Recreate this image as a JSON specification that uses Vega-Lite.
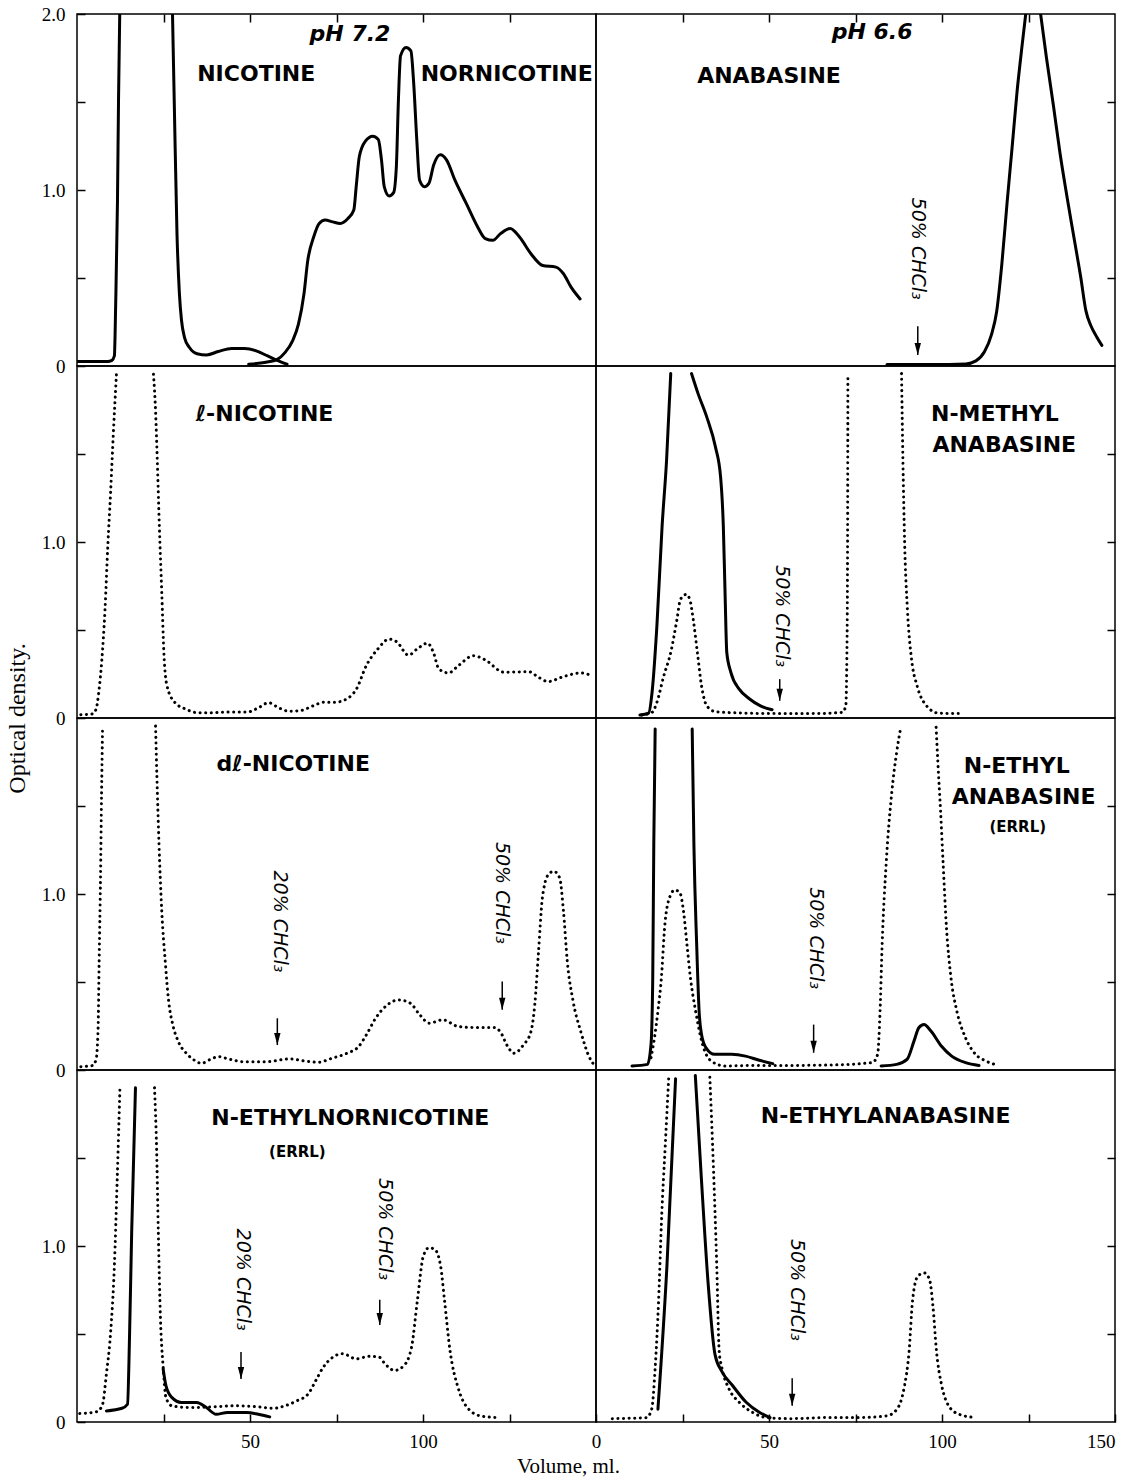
{
  "$schema": "https://vega.github.io/schema/vega-lite/v6.json",
  "padding": {"left": 4, "top": 4, "right": 0, "bottom": 0},
  "background": "white",
  "config": {
    "view": {"stroke": "black", "strokeWidth": 1.5},
    "axis": {"domain": false, "grid": false, "tickSize": -8, "tickColor": "black", "tickWidth": 1.5, "labelFont": "Liberation Serif", "labelFontSize": 19, "labelColor": "black", "labelPadding": 20, "labelOverlap": false, "labelFlush": false, "titleFont": "Liberation Serif", "titleFontSize": 24, "titleFontWeight": "normal", "titleColor": "black"}
  },
  "datasets": {
    "curves": [
      {"p":"1L","s":"a","run":"A","x":0,"y":0.025},{"p":"1L","s":"a","run":"A","x":8.8,"y":0.025},{"p":"1L","s":"a","run":"A","x":10.1,"y":0.032},{"p":"1L","s":"a","run":"A","x":10.8,"y":0.057},{"p":"1L","s":"a","run":"A","x":11.2,"y":0.37},{"p":"1L","s":"a","run":"A","x":11.7,"y":0.94},{"p":"1L","s":"a","run":"A","x":12.0,"y":1.51},{"p":"1L","s":"a","run":"A","x":12.35,"y":2.0},
      {"p":"1L","s":"b","run":"A","x":27.6,"y":2.0},{"p":"1L","s":"b","run":"A","x":28.1,"y":1.51},{"p":"1L","s":"b","run":"A","x":28.9,"y":0.75},{"p":"1L","s":"b","run":"A","x":29.6,"y":0.41},{"p":"1L","s":"b","run":"A","x":30.2,"y":0.26},{"p":"1L","s":"b","run":"A","x":31.1,"y":0.16},{"p":"1L","s":"b","run":"A","x":32.5,"y":0.105},{"p":"1L","s":"b","run":"A","x":34.7,"y":0.07},{"p":"1L","s":"b","run":"A","x":37.5,"y":0.063},{"p":"1L","s":"b","run":"A","x":40.8,"y":0.082},{"p":"1L","s":"b","run":"A","x":44.7,"y":0.1},{"p":"1L","s":"b","run":"A","x":48.5,"y":0.1},{"p":"1L","s":"b","run":"A","x":51.8,"y":0.086},{"p":"1L","s":"b","run":"A","x":55.1,"y":0.057},{"p":"1L","s":"b","run":"A","x":57.9,"y":0.032},{"p":"1L","s":"b","run":"A","x":60.7,"y":0.01},
      {"p":"1L","s":"c","run":"A","x":49.6,"y":0.01},{"p":"1L","s":"c","run":"A","x":54.6,"y":0.021},{"p":"1L","s":"c","run":"A","x":57.9,"y":0.038},{"p":"1L","s":"c","run":"A","x":60.1,"y":0.076},{"p":"1L","s":"c","run":"A","x":62.3,"y":0.143},{"p":"1L","s":"c","run":"A","x":64.0,"y":0.238},{"p":"1L","s":"c","run":"A","x":65.6,"y":0.41},{"p":"1L","s":"c","run":"A","x":66.7,"y":0.6},{"p":"1L","s":"c","run":"A","x":68.4,"y":0.733},{"p":"1L","s":"c","run":"A","x":70.0,"y":0.81},{"p":"1L","s":"c","run":"A","x":71.7,"y":0.829},{"p":"1L","s":"c","run":"A","x":73.9,"y":0.819},{"p":"1L","s":"c","run":"A","x":76.1,"y":0.81},{"p":"1L","s":"c","run":"A","x":78.3,"y":0.838},{"p":"1L","s":"c","run":"A","x":80.0,"y":0.886},{"p":"1L","s":"c","run":"A","x":80.7,"y":1.02},{"p":"1L","s":"c","run":"A","x":81.6,"y":1.19},{"p":"1L","s":"c","run":"A","x":83.3,"y":1.276},{"p":"1L","s":"c","run":"A","x":85.5,"y":1.305},{"p":"1L","s":"c","run":"A","x":87.1,"y":1.286},{"p":"1L","s":"c","run":"A","x":88.0,"y":1.171},{"p":"1L","s":"c","run":"A","x":88.8,"y":1.019},{"p":"1L","s":"c","run":"A","x":90.2,"y":0.966},{"p":"1L","s":"c","run":"A","x":91.5,"y":0.985},{"p":"1L","s":"c","run":"A","x":92.3,"y":1.133},{"p":"1L","s":"c","run":"A","x":92.9,"y":1.514},{"p":"1L","s":"c","run":"A","x":93.5,"y":1.762},{"p":"1L","s":"c","run":"A","x":95.1,"y":1.81},{"p":"1L","s":"c","run":"A","x":96.5,"y":1.79},{"p":"1L","s":"c","run":"A","x":97.3,"y":1.61},{"p":"1L","s":"c","run":"A","x":98.2,"y":1.286},{"p":"1L","s":"c","run":"A","x":99.0,"y":1.057},{"p":"1L","s":"c","run":"A","x":100.4,"y":1.019},{"p":"1L","s":"c","run":"A","x":101.7,"y":1.038},{"p":"1L","s":"c","run":"A","x":103.1,"y":1.143},{"p":"1L","s":"c","run":"A","x":105.0,"y":1.2},{"p":"1L","s":"c","run":"A","x":106.8,"y":1.171},{"p":"1L","s":"c","run":"A","x":109.2,"y":1.057},{"p":"1L","s":"c","run":"A","x":112.5,"y":0.924},{"p":"1L","s":"c","run":"A","x":115.8,"y":0.79},{"p":"1L","s":"c","run":"A","x":118.0,"y":0.724},{"p":"1L","s":"c","run":"A","x":120.2,"y":0.714},{"p":"1L","s":"c","run":"A","x":122.4,"y":0.752},{"p":"1L","s":"c","run":"A","x":125.2,"y":0.781},{"p":"1L","s":"c","run":"A","x":127.9,"y":0.733},{"p":"1L","s":"c","run":"A","x":131.2,"y":0.638},{"p":"1L","s":"c","run":"A","x":134.6,"y":0.571},{"p":"1L","s":"c","run":"A","x":138.4,"y":0.562},{"p":"1L","s":"c","run":"A","x":140.6,"y":0.524},{"p":"1L","s":"c","run":"A","x":142.8,"y":0.448},{"p":"1L","s":"c","run":"A","x":145.4,"y":0.381},

      {"p":"1R","s":"a","run":"A","x":84.1,"y":0.008},{"p":"1R","s":"a","run":"A","x":97.0,"y":0.008},{"p":"1R","s":"a","run":"A","x":106.9,"y":0.012},{"p":"1R","s":"a","run":"A","x":109.8,"y":0.029},{"p":"1R","s":"a","run":"A","x":112.3,"y":0.082},{"p":"1R","s":"a","run":"A","x":114.3,"y":0.178},{"p":"1R","s":"a","run":"A","x":115.8,"y":0.31},{"p":"1R","s":"a","run":"A","x":117.3,"y":0.58},{"p":"1R","s":"a","run":"A","x":118.8,"y":0.926},{"p":"1R","s":"a","run":"A","x":120.3,"y":1.25},{"p":"1R","s":"a","run":"A","x":121.7,"y":1.56},{"p":"1R","s":"a","run":"A","x":123.2,"y":1.83},{"p":"1R","s":"a","run":"A","x":124.2,"y":2.0},
      {"p":"1R","s":"b","run":"A","x":128.5,"y":2.0},{"p":"1R","s":"b","run":"A","x":130.2,"y":1.75},{"p":"1R","s":"b","run":"A","x":132.2,"y":1.48},{"p":"1R","s":"b","run":"A","x":134.1,"y":1.21},{"p":"1R","s":"b","run":"A","x":136.1,"y":0.965},{"p":"1R","s":"b","run":"A","x":138.1,"y":0.734},{"p":"1R","s":"b","run":"A","x":140.1,"y":0.504},{"p":"1R","s":"b","run":"A","x":141.6,"y":0.313},{"p":"1R","s":"b","run":"A","x":143.1,"y":0.226},{"p":"1R","s":"b","run":"A","x":144.6,"y":0.169},{"p":"1R","s":"b","run":"A","x":146.2,"y":0.117},

      {"p":"2L","s":"a","run":"B","x":1.1,"y":0.019},{"p":"2L","s":"a","run":"B","x":4.4,"y":0.023},{"p":"2L","s":"a","run":"B","x":5.5,"y":0.049},{"p":"2L","s":"a","run":"B","x":6.3,"y":0.147},{"p":"2L","s":"a","run":"B","x":7.2,"y":0.335},{"p":"2L","s":"a","run":"B","x":8.1,"y":0.617},{"p":"2L","s":"a","run":"B","x":8.9,"y":0.975},{"p":"2L","s":"a","run":"B","x":9.7,"y":1.276},{"p":"2L","s":"a","run":"B","x":10.5,"y":1.614},{"p":"2L","s":"a","run":"B","x":11.4,"y":1.953},
      {"p":"2L","s":"b","run":"B","x":22.1,"y":1.953},{"p":"2L","s":"b","run":"B","x":22.7,"y":1.746},{"p":"2L","s":"b","run":"B","x":23.2,"y":1.464},{"p":"2L","s":"b","run":"B","x":23.8,"y":1.087},{"p":"2L","s":"b","run":"B","x":24.5,"y":0.711},{"p":"2L","s":"b","run":"B","x":25.1,"y":0.373},{"p":"2L","s":"b","run":"B","x":26.0,"y":0.184},{"p":"2L","s":"b","run":"B","x":28.2,"y":0.09},{"p":"2L","s":"b","run":"B","x":31.6,"y":0.049},{"p":"2L","s":"b","run":"B","x":34.9,"y":0.03},{"p":"2L","s":"b","run":"B","x":39.3,"y":0.03},{"p":"2L","s":"b","run":"B","x":43.7,"y":0.034},{"p":"2L","s":"b","run":"B","x":49.3,"y":0.034},{"p":"2L","s":"b","run":"B","x":52.6,"y":0.06},{"p":"2L","s":"b","run":"B","x":55.4,"y":0.087},{"p":"2L","s":"b","run":"B","x":58.1,"y":0.06},{"p":"2L","s":"b","run":"B","x":61.4,"y":0.038},{"p":"2L","s":"b","run":"B","x":64.8,"y":0.043},{"p":"2L","s":"b","run":"B","x":68.1,"y":0.068},{"p":"2L","s":"b","run":"B","x":71.4,"y":0.09},{"p":"2L","s":"b","run":"B","x":74.7,"y":0.09},{"p":"2L","s":"b","run":"B","x":78.0,"y":0.109},{"p":"2L","s":"b","run":"B","x":80.8,"y":0.166},{"p":"2L","s":"b","run":"B","x":83.6,"y":0.297},{"p":"2L","s":"b","run":"B","x":86.9,"y":0.391},{"p":"2L","s":"b","run":"B","x":90.2,"y":0.448},{"p":"2L","s":"b","run":"B","x":92.4,"y":0.433},{"p":"2L","s":"b","run":"B","x":95.8,"y":0.357},{"p":"2L","s":"b","run":"B","x":98.5,"y":0.395},{"p":"2L","s":"b","run":"B","x":101.3,"y":0.425},{"p":"2L","s":"b","run":"B","x":103.0,"y":0.373},{"p":"2L","s":"b","run":"B","x":104.6,"y":0.278},{"p":"2L","s":"b","run":"B","x":107.4,"y":0.256},{"p":"2L","s":"b","run":"B","x":110.2,"y":0.297},{"p":"2L","s":"b","run":"B","x":114.6,"y":0.354},{"p":"2L","s":"b","run":"B","x":117.9,"y":0.331},{"p":"2L","s":"b","run":"B","x":123.4,"y":0.26},{"p":"2L","s":"b","run":"B","x":130.6,"y":0.263},{"p":"2L","s":"b","run":"B","x":133.4,"y":0.231},{"p":"2L","s":"b","run":"B","x":136.2,"y":0.207},{"p":"2L","s":"b","run":"B","x":140.0,"y":0.231},{"p":"2L","s":"b","run":"B","x":145.6,"y":0.256},{"p":"2L","s":"b","run":"B","x":148.7,"y":0.241},

      {"p":"2R","s":"a","run":"A","x":12.7,"y":0.017},{"p":"2R","s":"a","run":"A","x":15.2,"y":0.028},{"p":"2R","s":"a","run":"A","x":16.2,"y":0.145},{"p":"2R","s":"a","run":"A","x":17.6,"y":0.523},{"p":"2R","s":"a","run":"A","x":19.1,"y":1.089},{"p":"2R","s":"a","run":"A","x":20.4,"y":1.466},{"p":"2R","s":"a","run":"A","x":21.6,"y":1.957},
      {"p":"2R","s":"b","run":"A","x":27.6,"y":1.957},{"p":"2R","s":"b","run":"A","x":29.5,"y":1.843},{"p":"2R","s":"b","run":"A","x":32.0,"y":1.711},{"p":"2R","s":"b","run":"A","x":34.5,"y":1.542},{"p":"2R","s":"b","run":"A","x":36.0,"y":1.372},{"p":"2R","s":"b","run":"A","x":36.8,"y":1.089},{"p":"2R","s":"b","run":"A","x":37.3,"y":0.711},{"p":"2R","s":"b","run":"A","x":37.8,"y":0.372},{"p":"2R","s":"b","run":"A","x":39.0,"y":0.258},{"p":"2R","s":"b","run":"A","x":41.4,"y":0.164},{"p":"2R","s":"b","run":"A","x":44.4,"y":0.108},{"p":"2R","s":"b","run":"A","x":47.4,"y":0.07},{"p":"2R","s":"b","run":"A","x":50.9,"y":0.047},
      {"p":"2R","s":"c","run":"B","x":13.2,"y":0.017},{"p":"2R","s":"c","run":"B","x":16.2,"y":0.032},{"p":"2R","s":"c","run":"B","x":17.6,"y":0.089},{"p":"2R","s":"c","run":"B","x":19.6,"y":0.24},{"p":"2R","s":"c","run":"B","x":21.6,"y":0.372},{"p":"2R","s":"c","run":"B","x":23.4,"y":0.56},{"p":"2R","s":"c","run":"B","x":24.4,"y":0.674},{"p":"2R","s":"c","run":"B","x":26.1,"y":0.702},{"p":"2R","s":"c","run":"B","x":27.1,"y":0.674},{"p":"2R","s":"c","run":"B","x":28.1,"y":0.56},{"p":"2R","s":"c","run":"B","x":29.3,"y":0.372},{"p":"2R","s":"c","run":"B","x":30.5,"y":0.183},{"p":"2R","s":"c","run":"B","x":32.0,"y":0.07},{"p":"2R","s":"c","run":"B","x":34.5,"y":0.036},{"p":"2R","s":"c","run":"B","x":42.4,"y":0.028},{"p":"2R","s":"c","run":"B","x":52.3,"y":0.025},{"p":"2R","s":"c","run":"B","x":62.3,"y":0.025},{"p":"2R","s":"c","run":"B","x":71.2,"y":0.032},{"p":"2R","s":"c","run":"B","x":72.2,"y":0.07},{"p":"2R","s":"c","run":"B","x":72.5,"y":0.334},{"p":"2R","s":"c","run":"B","x":72.7,"y":0.9},{"p":"2R","s":"c","run":"B","x":72.8,"y":1.957},
      {"p":"2R","s":"d","run":"B","x":88.3,"y":1.957},{"p":"2R","s":"d","run":"B","x":88.7,"y":1.466},{"p":"2R","s":"d","run":"B","x":89.2,"y":0.994},{"p":"2R","s":"d","run":"B","x":90.0,"y":0.617},{"p":"2R","s":"d","run":"B","x":91.2,"y":0.334},{"p":"2R","s":"d","run":"B","x":92.8,"y":0.183},{"p":"2R","s":"d","run":"B","x":95.5,"y":0.07},{"p":"2R","s":"d","run":"B","x":98.9,"y":0.028},{"p":"2R","s":"d","run":"B","x":105.4,"y":0.025},

      {"p":"3L","s":"a","run":"B","x":1.1,"y":0.019},{"p":"3L","s":"a","run":"B","x":4.4,"y":0.025},{"p":"3L","s":"a","run":"B","x":5.5,"y":0.057},{"p":"3L","s":"a","run":"B","x":6.1,"y":0.237},{"p":"3L","s":"a","run":"B","x":6.4,"y":0.617},{"p":"3L","s":"a","run":"B","x":6.8,"y":1.091},{"p":"3L","s":"a","run":"B","x":7.1,"y":1.565},{"p":"3L","s":"a","run":"B","x":7.4,"y":1.954},
      {"p":"3L","s":"b","run":"B","x":22.7,"y":1.954},{"p":"3L","s":"b","run":"B","x":23.1,"y":1.66},{"p":"3L","s":"b","run":"B","x":23.7,"y":1.281},{"p":"3L","s":"b","run":"B","x":24.5,"y":0.901},{"p":"3L","s":"b","run":"B","x":25.5,"y":0.617},{"p":"3L","s":"b","run":"B","x":26.5,"y":0.389},{"p":"3L","s":"b","run":"B","x":27.7,"y":0.256},{"p":"3L","s":"b","run":"B","x":29.3,"y":0.161},{"p":"3L","s":"b","run":"B","x":31.6,"y":0.095},{"p":"3L","s":"b","run":"B","x":33.8,"y":0.057},{"p":"3L","s":"b","run":"B","x":36.0,"y":0.038},{"p":"3L","s":"b","run":"B","x":38.2,"y":0.057},{"p":"3L","s":"b","run":"B","x":41.0,"y":0.076},{"p":"3L","s":"b","run":"B","x":43.7,"y":0.063},{"p":"3L","s":"b","run":"B","x":48.2,"y":0.047},{"p":"3L","s":"b","run":"B","x":54.8,"y":0.047},{"p":"3L","s":"b","run":"B","x":61.4,"y":0.063},{"p":"3L","s":"b","run":"B","x":65.9,"y":0.051},{"p":"3L","s":"b","run":"B","x":69.7,"y":0.044},{"p":"3L","s":"b","run":"B","x":73.6,"y":0.066},{"p":"3L","s":"b","run":"B","x":78.0,"y":0.095},{"p":"3L","s":"b","run":"B","x":81.4,"y":0.133},{"p":"3L","s":"b","run":"B","x":83.6,"y":0.199},{"p":"3L","s":"b","run":"B","x":86.3,"y":0.294},{"p":"3L","s":"b","run":"B","x":89.7,"y":0.37},{"p":"3L","s":"b","run":"B","x":93.0,"y":0.398},{"p":"3L","s":"b","run":"B","x":96.3,"y":0.38},{"p":"3L","s":"b","run":"B","x":99.1,"y":0.313},{"p":"3L","s":"b","run":"B","x":101.8,"y":0.266},{"p":"3L","s":"b","run":"B","x":105.7,"y":0.285},{"p":"3L","s":"b","run":"B","x":110.2,"y":0.247},{"p":"3L","s":"b","run":"B","x":114.6,"y":0.241},{"p":"3L","s":"b","run":"B","x":120.7,"y":0.241},{"p":"3L","s":"b","run":"B","x":122.3,"y":0.218},{"p":"3L","s":"b","run":"B","x":124.5,"y":0.133},{"p":"3L","s":"b","run":"B","x":126.2,"y":0.095},{"p":"3L","s":"b","run":"B","x":129.0,"y":0.142},{"p":"3L","s":"b","run":"B","x":131.2,"y":0.218},{"p":"3L","s":"b","run":"B","x":132.3,"y":0.37},{"p":"3L","s":"b","run":"B","x":133.4,"y":0.674},{"p":"3L","s":"b","run":"B","x":134.5,"y":0.977},{"p":"3L","s":"b","run":"B","x":136.2,"y":1.11},{"p":"3L","s":"b","run":"B","x":137.8,"y":1.129},{"p":"3L","s":"b","run":"B","x":139.5,"y":1.091},{"p":"3L","s":"b","run":"B","x":140.6,"y":0.901},{"p":"3L","s":"b","run":"B","x":141.7,"y":0.617},{"p":"3L","s":"b","run":"B","x":143.4,"y":0.389},{"p":"3L","s":"b","run":"B","x":145.6,"y":0.218},{"p":"3L","s":"b","run":"B","x":147.8,"y":0.085},{"p":"3L","s":"b","run":"B","x":149.8,"y":0.019},

      {"p":"3R","s":"a","run":"A","x":10.4,"y":0.023},{"p":"3R","s":"a","run":"A","x":14.9,"y":0.032},{"p":"3R","s":"a","run":"A","x":15.9,"y":0.145},{"p":"3R","s":"a","run":"A","x":16.4,"y":0.523},{"p":"3R","s":"a","run":"A","x":16.7,"y":1.277},{"p":"3R","s":"a","run":"A","x":17.1,"y":1.938},
      {"p":"3R","s":"b","run":"A","x":27.8,"y":1.938},{"p":"3R","s":"b","run":"A","x":28.3,"y":1.277},{"p":"3R","s":"b","run":"A","x":29.1,"y":0.711},{"p":"3R","s":"b","run":"A","x":29.8,"y":0.334},{"p":"3R","s":"b","run":"A","x":30.5,"y":0.202},{"p":"3R","s":"b","run":"A","x":31.8,"y":0.126},{"p":"3R","s":"b","run":"A","x":34.3,"y":0.089},{"p":"3R","s":"b","run":"A","x":39.2,"y":0.089},{"p":"3R","s":"b","run":"A","x":43.2,"y":0.079},{"p":"3R","s":"b","run":"A","x":47.2,"y":0.055},{"p":"3R","s":"b","run":"A","x":51.1,"y":0.036},
      {"p":"3R","s":"c","run":"A","x":82.4,"y":0.023},{"p":"3R","s":"c","run":"A","x":86.9,"y":0.032},{"p":"3R","s":"c","run":"A","x":89.9,"y":0.06},{"p":"3R","s":"c","run":"A","x":91.9,"y":0.164},{"p":"3R","s":"c","run":"A","x":93.3,"y":0.24},{"p":"3R","s":"c","run":"A","x":94.8,"y":0.258},{"p":"3R","s":"c","run":"A","x":96.8,"y":0.221},{"p":"3R","s":"c","run":"A","x":99.8,"y":0.136},{"p":"3R","s":"c","run":"A","x":102.8,"y":0.079},{"p":"3R","s":"c","run":"A","x":106.8,"y":0.042},{"p":"3R","s":"c","run":"A","x":110.7,"y":0.026},
      {"p":"3R","s":"d","run":"B","x":15.9,"y":0.07},{"p":"3R","s":"d","run":"B","x":16.9,"y":0.183},{"p":"3R","s":"d","run":"B","x":17.9,"y":0.334},{"p":"3R","s":"d","run":"B","x":18.9,"y":0.523},{"p":"3R","s":"d","run":"B","x":19.9,"y":0.825},{"p":"3R","s":"d","run":"B","x":20.9,"y":0.957},{"p":"3R","s":"d","run":"B","x":22.8,"y":1.023},{"p":"3R","s":"d","run":"B","x":24.3,"y":1.004},{"p":"3R","s":"d","run":"B","x":25.3,"y":0.9},{"p":"3R","s":"d","run":"B","x":26.3,"y":0.711},{"p":"3R","s":"d","run":"B","x":27.3,"y":0.523},{"p":"3R","s":"d","run":"B","x":28.8,"y":0.334},{"p":"3R","s":"d","run":"B","x":30.8,"y":0.145},{"p":"3R","s":"d","run":"B","x":33.3,"y":0.051},{"p":"3R","s":"d","run":"B","x":37.2,"y":0.023},{"p":"3R","s":"d","run":"B","x":47.2,"y":0.026},{"p":"3R","s":"d","run":"B","x":57.1,"y":0.026},{"p":"3R","s":"d","run":"B","x":67.0,"y":0.028},{"p":"3R","s":"d","run":"B","x":79.9,"y":0.042},{"p":"3R","s":"d","run":"B","x":81.4,"y":0.089},{"p":"3R","s":"d","run":"B","x":82.1,"y":0.334},{"p":"3R","s":"d","run":"B","x":82.7,"y":0.711},{"p":"3R","s":"d","run":"B","x":83.9,"y":1.183},{"p":"3R","s":"d","run":"B","x":85.4,"y":1.56},{"p":"3R","s":"d","run":"B","x":86.9,"y":1.806},{"p":"3R","s":"d","run":"B","x":88.1,"y":1.947},
      {"p":"3R","s":"e","run":"B","x":98.3,"y":1.947},{"p":"3R","s":"e","run":"B","x":98.8,"y":1.749},{"p":"3R","s":"e","run":"B","x":99.6,"y":1.466},{"p":"3R","s":"e","run":"B","x":100.3,"y":1.183},{"p":"3R","s":"e","run":"B","x":101.3,"y":0.806},{"p":"3R","s":"e","run":"B","x":102.6,"y":0.523},{"p":"3R","s":"e","run":"B","x":104.3,"y":0.334},{"p":"3R","s":"e","run":"B","x":106.8,"y":0.183},{"p":"3R","s":"e","run":"B","x":109.7,"y":0.089},{"p":"3R","s":"e","run":"B","x":112.7,"y":0.051},{"p":"3R","s":"e","run":"B","x":115.2,"y":0.032},

      {"p":"4L","s":"a","run":"B","x":0.8,"y":0.048},{"p":"4L","s":"a","run":"B","x":5.8,"y":0.059},{"p":"4L","s":"a","run":"B","x":7.4,"y":0.101},{"p":"4L","s":"a","run":"B","x":8.5,"y":0.273},{"p":"4L","s":"a","run":"B","x":9.7,"y":0.503},{"p":"4L","s":"a","run":"B","x":10.8,"y":0.885},{"p":"4L","s":"a","run":"B","x":11.6,"y":1.363},{"p":"4L","s":"a","run":"B","x":12.4,"y":1.889},
      {"p":"4L","s":"b","run":"B","x":22.4,"y":1.899},{"p":"4L","s":"b","run":"B","x":23.0,"y":1.554},{"p":"4L","s":"b","run":"B","x":23.5,"y":1.076},{"p":"4L","s":"b","run":"B","x":24.1,"y":0.598},{"p":"4L","s":"b","run":"B","x":24.9,"y":0.312},{"p":"4L","s":"b","run":"B","x":25.7,"y":0.14},{"p":"4L","s":"b","run":"B","x":27.4,"y":0.092},{"p":"4L","s":"b","run":"B","x":32.4,"y":0.082},{"p":"4L","s":"b","run":"B","x":39.1,"y":0.086},{"p":"4L","s":"b","run":"B","x":45.7,"y":0.092},{"p":"4L","s":"b","run":"B","x":52.4,"y":0.086},{"p":"4L","s":"b","run":"B","x":56.8,"y":0.078},{"p":"4L","s":"b","run":"B","x":60.1,"y":0.092},{"p":"4L","s":"b","run":"B","x":63.5,"y":0.12},{"p":"4L","s":"b","run":"B","x":66.8,"y":0.159},{"p":"4L","s":"b","run":"B","x":69.0,"y":0.235},{"p":"4L","s":"b","run":"B","x":71.2,"y":0.312},{"p":"4L","s":"b","run":"B","x":74.0,"y":0.369},{"p":"4L","s":"b","run":"B","x":76.8,"y":0.388},{"p":"4L","s":"b","run":"B","x":80.7,"y":0.359},{"p":"4L","s":"b","run":"B","x":84.5,"y":0.373},{"p":"4L","s":"b","run":"B","x":87.3,"y":0.369},{"p":"4L","s":"b","run":"B","x":89.0,"y":0.331},{"p":"4L","s":"b","run":"B","x":91.8,"y":0.293},{"p":"4L","s":"b","run":"B","x":94.5,"y":0.321},{"p":"4L","s":"b","run":"B","x":96.7,"y":0.426},{"p":"4L","s":"b","run":"B","x":98.4,"y":0.694},{"p":"4L","s":"b","run":"B","x":100.1,"y":0.943},{"p":"4L","s":"b","run":"B","x":101.7,"y":0.99},{"p":"4L","s":"b","run":"B","x":103.4,"y":0.981},{"p":"4L","s":"b","run":"B","x":105.1,"y":0.885},{"p":"4L","s":"b","run":"B","x":106.2,"y":0.694},{"p":"4L","s":"b","run":"B","x":107.8,"y":0.407},{"p":"4L","s":"b","run":"B","x":110.1,"y":0.197},{"p":"4L","s":"b","run":"B","x":112.8,"y":0.082},{"p":"4L","s":"b","run":"B","x":116.7,"y":0.034},{"p":"4L","s":"b","run":"B","x":121.7,"y":0.025},
      {"p":"4L","s":"c","run":"A","x":8.5,"y":0.063},{"p":"4L","s":"c","run":"A","x":13.0,"y":0.078},{"p":"4L","s":"c","run":"A","x":14.6,"y":0.101},{"p":"4L","s":"c","run":"A","x":15.2,"y":0.503},{"p":"4L","s":"c","run":"A","x":15.8,"y":1.076},{"p":"4L","s":"c","run":"A","x":16.9,"y":1.899},
      {"p":"4L","s":"d","run":"A","x":24.9,"y":0.302},{"p":"4L","s":"d","run":"A","x":25.7,"y":0.207},{"p":"4L","s":"d","run":"A","x":27.4,"y":0.14},{"p":"4L","s":"d","run":"A","x":30.2,"y":0.111},{"p":"4L","s":"d","run":"A","x":34.6,"y":0.111},{"p":"4L","s":"d","run":"A","x":37.4,"y":0.082},{"p":"4L","s":"d","run":"A","x":40.2,"y":0.044},{"p":"4L","s":"d","run":"A","x":43.5,"y":0.054},{"p":"4L","s":"d","run":"A","x":49.0,"y":0.054},{"p":"4L","s":"d","run":"A","x":52.4,"y":0.044},{"p":"4L","s":"d","run":"A","x":55.7,"y":0.029},

      {"p":"4R","s":"a","run":"A","x":17.9,"y":0.073},{"p":"4R","s":"a","run":"A","x":20.5,"y":0.886},{"p":"4R","s":"a","run":"A","x":23.0,"y":1.95},
      {"p":"4R","s":"b","run":"A","x":28.7,"y":1.969},{"p":"4R","s":"b","run":"A","x":30.5,"y":1.369},{"p":"4R","s":"b","run":"A","x":32.4,"y":0.789},{"p":"4R","s":"b","run":"A","x":34.4,"y":0.383},{"p":"4R","s":"b","run":"A","x":36.4,"y":0.286},{"p":"4R","s":"b","run":"A","x":39.4,"y":0.209},{"p":"4R","s":"b","run":"A","x":43.4,"y":0.112},{"p":"4R","s":"b","run":"A","x":47.3,"y":0.054},{"p":"4R","s":"b","run":"A","x":50.3,"y":0.025},
      {"p":"4R","s":"c","run":"B","x":4.7,"y":0.019},{"p":"4R","s":"c","run":"B","x":14.6,"y":0.025},{"p":"4R","s":"c","run":"B","x":16.1,"y":0.073},{"p":"4R","s":"c","run":"B","x":17.1,"y":0.306},{"p":"4R","s":"c","run":"B","x":18.1,"y":0.692},{"p":"4R","s":"c","run":"B","x":19.0,"y":1.176},{"p":"4R","s":"c","run":"B","x":20.0,"y":1.563},{"p":"4R","s":"c","run":"B","x":21.0,"y":1.95},
      {"p":"4R","s":"d","run":"B","x":32.9,"y":1.959},{"p":"4R","s":"d","run":"B","x":33.9,"y":1.466},{"p":"4R","s":"d","run":"B","x":34.9,"y":0.886},{"p":"4R","s":"d","run":"B","x":35.6,"y":0.402},{"p":"4R","s":"d","run":"B","x":36.4,"y":0.306},{"p":"4R","s":"d","run":"B","x":38.4,"y":0.19},{"p":"4R","s":"d","run":"B","x":41.4,"y":0.112},{"p":"4R","s":"d","run":"B","x":45.3,"y":0.054},{"p":"4R","s":"d","run":"B","x":49.3,"y":0.025},{"p":"4R","s":"d","run":"B","x":56.3,"y":0.019},{"p":"4R","s":"d","run":"B","x":66.2,"y":0.025},{"p":"4R","s":"d","run":"B","x":76.1,"y":0.025},{"p":"4R","s":"d","run":"B","x":84.0,"y":0.035},{"p":"4R","s":"d","run":"B","x":87.0,"y":0.073},{"p":"4R","s":"d","run":"B","x":89.0,"y":0.19},{"p":"4R","s":"d","run":"B","x":90.5,"y":0.402},{"p":"4R","s":"d","run":"B","x":91.5,"y":0.692},{"p":"4R","s":"d","run":"B","x":93.0,"y":0.828},{"p":"4R","s":"d","run":"B","x":94.9,"y":0.847},{"p":"4R","s":"d","run":"B","x":96.4,"y":0.809},{"p":"4R","s":"d","run":"B","x":97.4,"y":0.654},{"p":"4R","s":"d","run":"B","x":98.4,"y":0.402},{"p":"4R","s":"d","run":"B","x":99.9,"y":0.209},{"p":"4R","s":"d","run":"B","x":101.9,"y":0.093},{"p":"4R","s":"d","run":"B","x":104.9,"y":0.044},{"p":"4R","s":"d","run":"B","x":109.8,"y":0.025}
    ],
    "names": [
      {"p":"1L","t":"NICOTINE","x":51.8,"y":1.657},
      {"p":"1L","t":"NORNICOTINE","x":124.2,"y":1.657},
      {"p":"1R","t":"ANABASINE","x":50.0,"y":1.645},
      {"p":"2L","t":"ℓ-NICOTINE","x":54.2,"y":1.727},
      {"p":"2R","t":"N-METHYL","x":115.3,"y":1.73},
      {"p":"2R","t":"ANABASINE","x":118.0,"y":1.55},
      {"p":"3L","t":"dℓ-NICOTINE","x":62.5,"y":1.736},
      {"p":"3R","t":"N-ETHYL","x":121.6,"y":1.73},
      {"p":"3R","t":"ANABASINE","x":123.6,"y":1.551},
      {"p":"4L","t":"N-ETHYLNORNICOTINE","x":79.0,"y":1.727},
      {"p":"4R","t":"N-ETHYLANABASINE","x":83.7,"y":1.737}
    ],
    "ph": [
      {"p":"1L","t":"pH 7.2","x":78.9,"y":1.886},
      {"p":"1R","t":"pH 6.6","x":79.8,"y":1.895}
    ],
    "tags": [
      {"p":"3R","t":"(ERRL)","x":121.9,"y":1.381},
      {"p":"4L","t":"(ERRL)","x":63.7,"y":1.535}
    ],
    "notes": [
      {"p":"1R","t":"50% CHCl₃","x":93,"y":0.667},
      {"p":"2R","t":"50% CHCl₃","x":53.8,"y":0.579},
      {"p":"3L","t":"20% CHCl₃","x":58.7,"y":0.844},
      {"p":"3L","t":"50% CHCl₃","x":122.9,"y":1.006},
      {"p":"3R","t":"50% CHCl₃","x":63.6,"y":0.749},
      {"p":"4L","t":"20% CHCl₃","x":47.9,"y":0.809},
      {"p":"4L","t":"50% CHCl₃","x":88.9,"y":1.096},
      {"p":"4R","t":"50% CHCl₃","x":58.2,"y":0.75}
    ],
    "arrows": [
      {"p":"1R","x":93,"y":0.226,"yb":0.063},
      {"p":"2R","x":53.1,"y":0.221,"yb":0.098},
      {"p":"3L","x":57.9,"y":0.294,"yb":0.142},
      {"p":"3L","x":122.9,"y":0.503,"yb":0.342},
      {"p":"3R","x":62.9,"y":0.258,"yb":0.098},
      {"p":"4L","x":47.4,"y":0.398,"yb":0.245},
      {"p":"4L","x":87.5,"y":0.694,"yb":0.551},
      {"p":"4R","x":56.7,"y":0.248,"yb":0.093}
    ],
    "heads": [
      {"p":"1R","x":93,"y":0.063},
      {"p":"2R","x":53.1,"y":0.098},
      {"p":"3L","x":57.9,"y":0.142},
      {"p":"3L","x":122.9,"y":0.342},
      {"p":"3R","x":62.9,"y":0.098},
      {"p":"4L","x":47.4,"y":0.245},
      {"p":"4L","x":87.5,"y":0.551},
      {"p":"4R","x":56.7,"y":0.093}
    ]
  },
  "columns": 2,
  "spacing": 0,
  "bounds": "flush",
  "concat": [
    {
      "width": 519, "height": 352,
      "encoding": {
        "x": {"field": "x", "type": "quantitative", "scale": {"domain": [0, 150], "nice": false, "zero": false}, "axis": {"orient": "top", "values": [25, 50, 75, 100, 125], "labels": false, "title": null}},
        "y": {"field": "y", "type": "quantitative", "scale": {"domain": [0, 2], "nice": false}, "axis": {"orient": "left", "values": [0, 0.5, 1, 1.5, 2], "labelExpr": "datum.value == 0 ? '0' : datum.value == 1 ? '1.0' : datum.value == 2 ? '2.0' : ''", "title": null}}
      },
      "layer": [
        {"data": {"name": "curves"}, "transform": [{"filter": "datum.p == '1L' && datum.run == 'A'"}], "mark": {"type": "line", "color": "black", "strokeWidth": 3, "strokeCap": "round", "strokeJoin": "round", "interpolate": "monotone", "clip": true}, "encoding": {"detail": {"field": "s", "type": "nominal"}}},
        {"data": {"name": "curves"}, "transform": [{"filter": "datum.p == '1L' && datum.run == 'B'"}], "mark": {"type": "line", "color": "black", "strokeWidth": 3, "strokeCap": "round", "strokeDash": [0.1, 5.5], "interpolate": "monotone", "clip": true}, "encoding": {"detail": {"field": "s", "type": "nominal"}}},
        {"data": {"name": "names"}, "transform": [{"filter": "datum.p == '1L'"}], "mark": {"type": "text", "font": "DejaVu Sans", "fontWeight": "bold", "fontSize": 22, "color": "black"}, "encoding": {"text": {"field": "t"}}},
        {"data": {"name": "ph"}, "transform": [{"filter": "datum.p == '1L'"}], "mark": {"type": "text", "font": "DejaVu Sans", "fontWeight": "bold", "fontStyle": "italic", "fontSize": 22, "color": "black"}, "encoding": {"text": {"field": "t"}}},
        {"data": {"name": "notes"}, "transform": [{"filter": "datum.p == '1L'"}], "mark": {"type": "text", "font": "DejaVu Sans", "fontStyle": "italic", "fontSize": 19, "angle": 90, "color": "black"}, "encoding": {"text": {"field": "t"}}},
        {"data": {"name": "arrows"}, "transform": [{"filter": "datum.p == '1L'"}], "mark": {"type": "rule", "color": "black", "strokeWidth": 1.5}, "encoding": {"y2": {"field": "yb"}}},
        {"data": {"name": "heads"}, "transform": [{"filter": "datum.p == '1L'"}], "mark": {"type": "point", "shape": "M-0.8,-3L0,0L0.8,-3Z", "size": 64, "filled": true, "color": "black", "opacity": 1}}
      ]
    },
    {
      "width": 519, "height": 352,
      "encoding": {
        "x": {"field": "x", "type": "quantitative", "scale": {"domain": [0, 150], "nice": false, "zero": false}, "axis": {"orient": "top", "values": [25, 50, 75, 100, 125], "labels": false, "title": null}},
        "y": {"field": "y", "type": "quantitative", "scale": {"domain": [0, 2], "nice": false}, "axis": {"orient": "right", "values": [0.5, 1, 1.5], "labels": false, "title": null}}
      },
      "layer": [
        {"data": {"name": "curves"}, "transform": [{"filter": "datum.p == '1R' && datum.run == 'A'"}], "mark": {"type": "line", "color": "black", "strokeWidth": 3, "strokeCap": "round", "strokeJoin": "round", "interpolate": "monotone", "clip": true}, "encoding": {"detail": {"field": "s", "type": "nominal"}}},
        {"data": {"name": "curves"}, "transform": [{"filter": "datum.p == '1R' && datum.run == 'B'"}], "mark": {"type": "line", "color": "black", "strokeWidth": 3, "strokeCap": "round", "strokeDash": [0.1, 5.5], "interpolate": "monotone", "clip": true}, "encoding": {"detail": {"field": "s", "type": "nominal"}}},
        {"data": {"name": "names"}, "transform": [{"filter": "datum.p == '1R'"}], "mark": {"type": "text", "font": "DejaVu Sans", "fontWeight": "bold", "fontSize": 22, "color": "black"}, "encoding": {"text": {"field": "t"}}},
        {"data": {"name": "ph"}, "transform": [{"filter": "datum.p == '1R'"}], "mark": {"type": "text", "font": "DejaVu Sans", "fontWeight": "bold", "fontStyle": "italic", "fontSize": 22, "color": "black"}, "encoding": {"text": {"field": "t"}}},
        {"data": {"name": "notes"}, "transform": [{"filter": "datum.p == '1R'"}], "mark": {"type": "text", "font": "DejaVu Sans", "fontStyle": "italic", "fontSize": 19, "angle": 90, "color": "black"}, "encoding": {"text": {"field": "t"}}},
        {"data": {"name": "arrows"}, "transform": [{"filter": "datum.p == '1R'"}], "mark": {"type": "rule", "color": "black", "strokeWidth": 1.5}, "encoding": {"y2": {"field": "yb"}}},
        {"data": {"name": "heads"}, "transform": [{"filter": "datum.p == '1R'"}], "mark": {"type": "point", "shape": "M-0.8,-3L0,0L0.8,-3Z", "size": 64, "filled": true, "color": "black", "opacity": 1}}
      ]
    },
    {
      "width": 519, "height": 352,
      "encoding": {
        "x": {"field": "x", "type": "quantitative", "scale": {"domain": [0, 150], "nice": false, "zero": false}, "axis": null},
        "y": {"field": "y", "type": "quantitative", "scale": {"domain": [0, 2], "nice": false}, "axis": {"orient": "left", "values": [0, 0.5, 1, 1.5], "labelExpr": "datum.value == 0 ? '0' : datum.value == 1 ? '1.0' : ''", "title": "Optical density.", "titleY": 352, "titlePadding": 12}}
      },
      "layer": [
        {"data": {"name": "curves"}, "transform": [{"filter": "datum.p == '2L' && datum.run == 'A'"}], "mark": {"type": "line", "color": "black", "strokeWidth": 3, "strokeCap": "round", "strokeJoin": "round", "interpolate": "monotone", "clip": true}, "encoding": {"detail": {"field": "s", "type": "nominal"}}},
        {"data": {"name": "curves"}, "transform": [{"filter": "datum.p == '2L' && datum.run == 'B'"}], "mark": {"type": "line", "color": "black", "strokeWidth": 3, "strokeCap": "round", "strokeDash": [0.1, 5.5], "interpolate": "monotone", "clip": true}, "encoding": {"detail": {"field": "s", "type": "nominal"}}},
        {"data": {"name": "names"}, "transform": [{"filter": "datum.p == '2L'"}], "mark": {"type": "text", "font": "DejaVu Sans", "fontWeight": "bold", "fontSize": 22, "color": "black"}, "encoding": {"text": {"field": "t"}}},
        {"data": {"name": "notes"}, "transform": [{"filter": "datum.p == '2L'"}], "mark": {"type": "text", "font": "DejaVu Sans", "fontStyle": "italic", "fontSize": 19, "angle": 90, "color": "black"}, "encoding": {"text": {"field": "t"}}},
        {"data": {"name": "arrows"}, "transform": [{"filter": "datum.p == '2L'"}], "mark": {"type": "rule", "color": "black", "strokeWidth": 1.5}, "encoding": {"y2": {"field": "yb"}}},
        {"data": {"name": "heads"}, "transform": [{"filter": "datum.p == '2L'"}], "mark": {"type": "point", "shape": "M-0.8,-3L0,0L0.8,-3Z", "size": 64, "filled": true, "color": "black", "opacity": 1}}
      ]
    },
    {
      "width": 519, "height": 352,
      "encoding": {
        "x": {"field": "x", "type": "quantitative", "scale": {"domain": [0, 150], "nice": false, "zero": false}, "axis": null},
        "y": {"field": "y", "type": "quantitative", "scale": {"domain": [0, 2], "nice": false}, "axis": {"orient": "right", "values": [0.5, 1, 1.5], "labels": false, "title": null}}
      },
      "layer": [
        {"data": {"name": "curves"}, "transform": [{"filter": "datum.p == '2R' && datum.run == 'A'"}], "mark": {"type": "line", "color": "black", "strokeWidth": 3, "strokeCap": "round", "strokeJoin": "round", "interpolate": "monotone", "clip": true}, "encoding": {"detail": {"field": "s", "type": "nominal"}}},
        {"data": {"name": "curves"}, "transform": [{"filter": "datum.p == '2R' && datum.run == 'B'"}], "mark": {"type": "line", "color": "black", "strokeWidth": 3, "strokeCap": "round", "strokeDash": [0.1, 5.5], "interpolate": "monotone", "clip": true}, "encoding": {"detail": {"field": "s", "type": "nominal"}}},
        {"data": {"name": "names"}, "transform": [{"filter": "datum.p == '2R'"}], "mark": {"type": "text", "font": "DejaVu Sans", "fontWeight": "bold", "fontSize": 22, "color": "black"}, "encoding": {"text": {"field": "t"}}},
        {"data": {"name": "notes"}, "transform": [{"filter": "datum.p == '2R'"}], "mark": {"type": "text", "font": "DejaVu Sans", "fontStyle": "italic", "fontSize": 19, "angle": 90, "color": "black"}, "encoding": {"text": {"field": "t"}}},
        {"data": {"name": "arrows"}, "transform": [{"filter": "datum.p == '2R'"}], "mark": {"type": "rule", "color": "black", "strokeWidth": 1.5}, "encoding": {"y2": {"field": "yb"}}},
        {"data": {"name": "heads"}, "transform": [{"filter": "datum.p == '2R'"}], "mark": {"type": "point", "shape": "M-0.8,-3L0,0L0.8,-3Z", "size": 64, "filled": true, "color": "black", "opacity": 1}}
      ]
    },
    {
      "width": 519, "height": 352,
      "encoding": {
        "x": {"field": "x", "type": "quantitative", "scale": {"domain": [0, 150], "nice": false, "zero": false}, "axis": null},
        "y": {"field": "y", "type": "quantitative", "scale": {"domain": [0, 2], "nice": false}, "axis": {"orient": "left", "values": [0, 0.5, 1, 1.5], "labelExpr": "datum.value == 0 ? '0' : datum.value == 1 ? '1.0' : ''", "title": null}}
      },
      "layer": [
        {"data": {"name": "curves"}, "transform": [{"filter": "datum.p == '3L' && datum.run == 'A'"}], "mark": {"type": "line", "color": "black", "strokeWidth": 3, "strokeCap": "round", "strokeJoin": "round", "interpolate": "monotone", "clip": true}, "encoding": {"detail": {"field": "s", "type": "nominal"}}},
        {"data": {"name": "curves"}, "transform": [{"filter": "datum.p == '3L' && datum.run == 'B'"}], "mark": {"type": "line", "color": "black", "strokeWidth": 3, "strokeCap": "round", "strokeDash": [0.1, 5.5], "interpolate": "monotone", "clip": true}, "encoding": {"detail": {"field": "s", "type": "nominal"}}},
        {"data": {"name": "names"}, "transform": [{"filter": "datum.p == '3L'"}], "mark": {"type": "text", "font": "DejaVu Sans", "fontWeight": "bold", "fontSize": 22, "color": "black"}, "encoding": {"text": {"field": "t"}}},
        {"data": {"name": "notes"}, "transform": [{"filter": "datum.p == '3L'"}], "mark": {"type": "text", "font": "DejaVu Sans", "fontStyle": "italic", "fontSize": 19, "angle": 90, "color": "black"}, "encoding": {"text": {"field": "t"}}},
        {"data": {"name": "arrows"}, "transform": [{"filter": "datum.p == '3L'"}], "mark": {"type": "rule", "color": "black", "strokeWidth": 1.5}, "encoding": {"y2": {"field": "yb"}}},
        {"data": {"name": "heads"}, "transform": [{"filter": "datum.p == '3L'"}], "mark": {"type": "point", "shape": "M-0.8,-3L0,0L0.8,-3Z", "size": 64, "filled": true, "color": "black", "opacity": 1}}
      ]
    },
    {
      "width": 519, "height": 352,
      "encoding": {
        "x": {"field": "x", "type": "quantitative", "scale": {"domain": [0, 150], "nice": false, "zero": false}, "axis": null},
        "y": {"field": "y", "type": "quantitative", "scale": {"domain": [0, 2], "nice": false}, "axis": {"orient": "right", "values": [0.5, 1, 1.5], "labels": false, "title": null}}
      },
      "layer": [
        {"data": {"name": "curves"}, "transform": [{"filter": "datum.p == '3R' && datum.run == 'A'"}], "mark": {"type": "line", "color": "black", "strokeWidth": 3, "strokeCap": "round", "strokeJoin": "round", "interpolate": "monotone", "clip": true}, "encoding": {"detail": {"field": "s", "type": "nominal"}}},
        {"data": {"name": "curves"}, "transform": [{"filter": "datum.p == '3R' && datum.run == 'B'"}], "mark": {"type": "line", "color": "black", "strokeWidth": 3, "strokeCap": "round", "strokeDash": [0.1, 5.5], "interpolate": "monotone", "clip": true}, "encoding": {"detail": {"field": "s", "type": "nominal"}}},
        {"data": {"name": "names"}, "transform": [{"filter": "datum.p == '3R'"}], "mark": {"type": "text", "font": "DejaVu Sans", "fontWeight": "bold", "fontSize": 22, "color": "black"}, "encoding": {"text": {"field": "t"}}},
        {"data": {"name": "tags"}, "transform": [{"filter": "datum.p == '3R'"}], "mark": {"type": "text", "font": "DejaVu Sans", "fontWeight": "bold", "fontSize": 15, "color": "black"}, "encoding": {"text": {"field": "t"}}},
        {"data": {"name": "notes"}, "transform": [{"filter": "datum.p == '3R'"}], "mark": {"type": "text", "font": "DejaVu Sans", "fontStyle": "italic", "fontSize": 19, "angle": 90, "color": "black"}, "encoding": {"text": {"field": "t"}}},
        {"data": {"name": "arrows"}, "transform": [{"filter": "datum.p == '3R'"}], "mark": {"type": "rule", "color": "black", "strokeWidth": 1.5}, "encoding": {"y2": {"field": "yb"}}},
        {"data": {"name": "heads"}, "transform": [{"filter": "datum.p == '3R'"}], "mark": {"type": "point", "shape": "M-0.8,-3L0,0L0.8,-3Z", "size": 64, "filled": true, "color": "black", "opacity": 1}}
      ]
    },
    {
      "width": 519, "height": 352,
      "encoding": {
        "x": {"field": "x", "type": "quantitative", "scale": {"domain": [0, 150], "nice": false, "zero": false}, "axis": {"orient": "bottom", "values": [25, 50, 75, 100, 125], "labelExpr": "datum.value == 50 || datum.value == 100 ? datum.label : ''", "labelPadding": 18, "title": "Volume, ml.", "titleX": 491, "titlePadding": 4, "titleFontSize": 21}},
        "y": {"field": "y", "type": "quantitative", "scale": {"domain": [0, 2], "nice": false}, "axis": {"orient": "left", "values": [0, 0.5, 1, 1.5], "labelExpr": "datum.value == 0 ? '0' : datum.value == 1 ? '1.0' : ''", "title": null}}
      },
      "layer": [
        {"data": {"name": "curves"}, "transform": [{"filter": "datum.p == '4L' && datum.run == 'A'"}], "mark": {"type": "line", "color": "black", "strokeWidth": 3, "strokeCap": "round", "strokeJoin": "round", "interpolate": "monotone", "clip": true}, "encoding": {"detail": {"field": "s", "type": "nominal"}}},
        {"data": {"name": "curves"}, "transform": [{"filter": "datum.p == '4L' && datum.run == 'B'"}], "mark": {"type": "line", "color": "black", "strokeWidth": 3, "strokeCap": "round", "strokeDash": [0.1, 5.5], "interpolate": "monotone", "clip": true}, "encoding": {"detail": {"field": "s", "type": "nominal"}}},
        {"data": {"name": "names"}, "transform": [{"filter": "datum.p == '4L'"}], "mark": {"type": "text", "font": "DejaVu Sans", "fontWeight": "bold", "fontSize": 22, "color": "black"}, "encoding": {"text": {"field": "t"}}},
        {"data": {"name": "tags"}, "transform": [{"filter": "datum.p == '4L'"}], "mark": {"type": "text", "font": "DejaVu Sans", "fontWeight": "bold", "fontSize": 15, "color": "black"}, "encoding": {"text": {"field": "t"}}},
        {"data": {"name": "notes"}, "transform": [{"filter": "datum.p == '4L'"}], "mark": {"type": "text", "font": "DejaVu Sans", "fontStyle": "italic", "fontSize": 19, "angle": 90, "color": "black"}, "encoding": {"text": {"field": "t"}}},
        {"data": {"name": "arrows"}, "transform": [{"filter": "datum.p == '4L'"}], "mark": {"type": "rule", "color": "black", "strokeWidth": 1.5}, "encoding": {"y2": {"field": "yb"}}},
        {"data": {"name": "heads"}, "transform": [{"filter": "datum.p == '4L'"}], "mark": {"type": "point", "shape": "M-0.8,-3L0,0L0.8,-3Z", "size": 64, "filled": true, "color": "black", "opacity": 1}}
      ]
    },
    {
      "width": 519, "height": 352,
      "encoding": {
        "x": {"field": "x", "type": "quantitative", "scale": {"domain": [0, 150], "nice": false, "zero": false}, "axis": {"orient": "bottom", "values": [0, 25, 50, 75, 100, 125, 150], "labelExpr": "datum.value % 50 == 0 ? datum.label : ''", "labelAlign": {"condition": {"test": "datum.value == 150", "value": "right"}, "value": "center"}, "labelPadding": 18, "title": null}},
        "y": {"field": "y", "type": "quantitative", "scale": {"domain": [0, 2], "nice": false}, "axis": {"orient": "right", "values": [0.5, 1, 1.5], "labels": false, "title": null}}
      },
      "layer": [
        {"data": {"name": "curves"}, "transform": [{"filter": "datum.p == '4R' && datum.run == 'A'"}], "mark": {"type": "line", "color": "black", "strokeWidth": 3, "strokeCap": "round", "strokeJoin": "round", "interpolate": "monotone", "clip": true}, "encoding": {"detail": {"field": "s", "type": "nominal"}}},
        {"data": {"name": "curves"}, "transform": [{"filter": "datum.p == '4R' && datum.run == 'B'"}], "mark": {"type": "line", "color": "black", "strokeWidth": 3, "strokeCap": "round", "strokeDash": [0.1, 5.5], "interpolate": "monotone", "clip": true}, "encoding": {"detail": {"field": "s", "type": "nominal"}}},
        {"data": {"name": "names"}, "transform": [{"filter": "datum.p == '4R'"}], "mark": {"type": "text", "font": "DejaVu Sans", "fontWeight": "bold", "fontSize": 22, "color": "black"}, "encoding": {"text": {"field": "t"}}},
        {"data": {"name": "notes"}, "transform": [{"filter": "datum.p == '4R'"}], "mark": {"type": "text", "font": "DejaVu Sans", "fontStyle": "italic", "fontSize": 19, "angle": 90, "color": "black"}, "encoding": {"text": {"field": "t"}}},
        {"data": {"name": "arrows"}, "transform": [{"filter": "datum.p == '4R'"}], "mark": {"type": "rule", "color": "black", "strokeWidth": 1.5}, "encoding": {"y2": {"field": "yb"}}},
        {"data": {"name": "heads"}, "transform": [{"filter": "datum.p == '4R'"}], "mark": {"type": "point", "shape": "M-0.8,-3L0,0L0.8,-3Z", "size": 64, "filled": true, "color": "black", "opacity": 1}}
      ]
    }
  ]
}
